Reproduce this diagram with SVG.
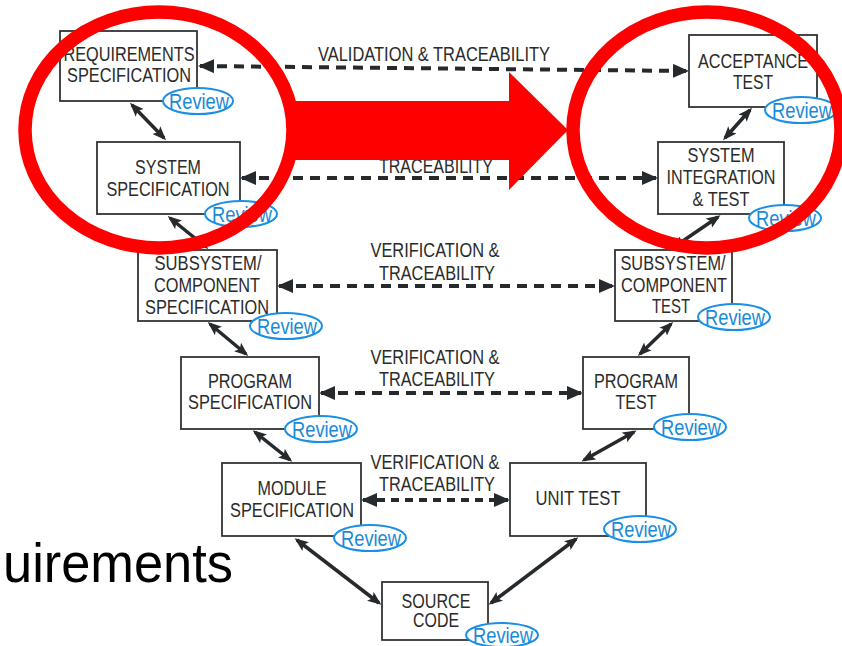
<svg xmlns="http://www.w3.org/2000/svg" width="842" height="646" viewBox="0 0 842 646">
<style>
.box{fill:#fff;stroke:#333;stroke-width:1.8}
.t{font-family:"Liberation Sans",Arial,sans-serif;font-size:19.5px;fill:#2b2b2b;text-anchor:middle}
.rv{fill:#fff;stroke:#1a8fe3;stroke-width:2}
.rt{font-family:"Liberation Sans",Arial,sans-serif;font-size:22px;fill:#1a8ad8;text-anchor:middle}
.sc{stroke:#262a2d;stroke-width:3.5;fill:none;marker-start:url(#ah);marker-end:url(#ah)}
.dc{stroke:#262a2d;stroke-width:4;fill:none;stroke-dasharray:10 7;marker-start:url(#dh);marker-end:url(#dh)}
.red{fill:none;stroke:#ff0000;stroke-width:13.5}
</style>
<defs>
<marker id="ah" viewBox="0 0 14 11" refX="11" refY="5.5" markerWidth="14" markerHeight="11" markerUnits="userSpaceOnUse" orient="auto-start-reverse">
<path d="M0,0 L14,5.5 L0,11 L3,5.5 z" fill="#262a2d"/>
</marker>
<marker id="dh" viewBox="0 0 16 14" refX="14" refY="7" markerWidth="16" markerHeight="14" markerUnits="userSpaceOnUse" orient="auto-start-reverse">
<path d="M0,0 L16,7 L0,14 z" fill="#262a2d"/>
</marker>
</defs>
<rect width="842" height="646" fill="#fff"/>

<g id="connectors">
<line class="sc" x1="132" y1="105" x2="164" y2="138"/>
<line class="sc" x1="170" y1="218" x2="206" y2="247"/>
<line class="sc" x1="750" y1="110" x2="725" y2="138"/>
<line class="sc" x1="718" y1="217" x2="674" y2="247"/>
<line class="sc" x1="210" y1="324" x2="246" y2="354"/>
<line class="sc" x1="671" y1="324" x2="640" y2="354"/>
<line class="sc" x1="255" y1="432" x2="290" y2="460"/>
<line class="sc" x1="634" y1="432" x2="584" y2="460"/>
<line class="sc" x1="297" y1="540" x2="379" y2="603"/>
<line class="sc" x1="576" y1="539" x2="491" y2="603"/>
<line class="dc" x1="200" y1="66" x2="687" y2="71"/>
<line class="dc" x1="242" y1="178" x2="656" y2="178"/>
<line class="dc" x1="279" y1="286" x2="613" y2="286"/>
<line class="dc" x1="321" y1="393" x2="581" y2="393"/>
<line class="dc" x1="363" y1="500" x2="508" y2="500" style="stroke-dasharray:8 6"/>
<text class="t" x="434" y="61" textLength="232" lengthAdjust="spacingAndGlyphs">VALIDATION &amp; TRACEABILITY</text>
<text class="t" x="436" y="173" textLength="114" lengthAdjust="spacingAndGlyphs">TRACEABILITY</text>
<text class="t" x="435" y="257" textLength="129" lengthAdjust="spacingAndGlyphs">VERIFICATION &amp;</text>
<text class="t" x="437" y="280" textLength="116" lengthAdjust="spacingAndGlyphs">TRACEABILITY</text>
<text class="t" x="435" y="364" textLength="129" lengthAdjust="spacingAndGlyphs">VERIFICATION &amp;</text>
<text class="t" x="437" y="386" textLength="116" lengthAdjust="spacingAndGlyphs">TRACEABILITY</text>
<text class="t" x="435" y="469" textLength="129" lengthAdjust="spacingAndGlyphs">VERIFICATION &amp;</text>
<text class="t" x="437" y="491" textLength="116" lengthAdjust="spacingAndGlyphs">TRACEABILITY</text>
</g>

<g id="req-spec">
<rect class="box" x="60" y="31" width="137" height="70"/>
<text class="t" x="129" y="61" textLength="131" lengthAdjust="spacingAndGlyphs">REQUIREMENTS</text>
<text class="t" x="129" y="82" textLength="124" lengthAdjust="spacingAndGlyphs">SPECIFICATION</text>
<ellipse class="rv" cx="198" cy="101" rx="35" ry="13"/>
<text class="rt" x="199" y="109" textLength="60" lengthAdjust="spacingAndGlyphs">Review</text>
</g>

<g id="sys-spec">
<rect class="box" x="97" y="142" width="143" height="72"/>
<text class="t" x="168" y="174" textLength="66" lengthAdjust="spacingAndGlyphs">SYSTEM</text>
<text class="t" x="168" y="196" textLength="123" lengthAdjust="spacingAndGlyphs">SPECIFICATION</text>
<ellipse class="rv" cx="241" cy="214" rx="36" ry="13"/>
<text class="rt" x="242" y="222" textLength="60" lengthAdjust="spacingAndGlyphs">Review</text>
</g>

<g id="acceptance-test">
<rect class="box" x="689" y="35" width="128" height="72"/>
<text class="t" x="753" y="68" textLength="110" lengthAdjust="spacingAndGlyphs">ACCEPTANCE</text>
<text class="t" x="753" y="89" textLength="40" lengthAdjust="spacingAndGlyphs">TEST</text>
<ellipse class="rv" cx="801" cy="110" rx="36" ry="13"/>
<text class="rt" x="802" y="118" textLength="60" lengthAdjust="spacingAndGlyphs">Review</text>
</g>

<g id="sys-integration">
<rect class="box" x="658" y="142" width="126" height="72"/>
<text class="t" x="721" y="162" textLength="67" lengthAdjust="spacingAndGlyphs">SYSTEM</text>
<text class="t" x="721" y="184" textLength="109" lengthAdjust="spacingAndGlyphs">INTEGRATION</text>
<text class="t" x="721" y="206" textLength="57" lengthAdjust="spacingAndGlyphs">&amp; TEST</text>
<ellipse class="rv" cx="785" cy="218" rx="36" ry="13"/>
<text class="rt" x="786" y="226" textLength="60" lengthAdjust="spacingAndGlyphs">Review</text>
</g>

<g id="subsys-spec">
<rect class="box" x="138" y="250" width="139" height="71"/>
<text class="t" x="208" y="270" textLength="107" lengthAdjust="spacingAndGlyphs">SUBSYSTEM/</text>
<text class="t" x="207" y="292" textLength="106" lengthAdjust="spacingAndGlyphs">COMPONENT</text>
<text class="t" x="207" y="314" textLength="124" lengthAdjust="spacingAndGlyphs">SPECIFICATION</text>
<ellipse class="rv" cx="286" cy="326" rx="36" ry="13"/>
<text class="rt" x="287" y="334" textLength="60" lengthAdjust="spacingAndGlyphs">Review</text>
</g>

<g id="subsys-test">
<rect class="box" x="615" y="250" width="117" height="71"/>
<text class="t" x="673" y="270" textLength="105" lengthAdjust="spacingAndGlyphs">SUBSYSTEM/</text>
<text class="t" x="674" y="292" textLength="106" lengthAdjust="spacingAndGlyphs">COMPONENT</text>
<text class="t" x="671" y="313" textLength="38" lengthAdjust="spacingAndGlyphs">TEST</text>
<ellipse class="rv" cx="734" cy="317" rx="36" ry="13"/>
<text class="rt" x="735" y="325" textLength="60" lengthAdjust="spacingAndGlyphs">Review</text>
</g>

<g id="program-spec">
<rect class="box" x="181" y="357" width="138" height="72"/>
<text class="t" x="250" y="388" textLength="84" lengthAdjust="spacingAndGlyphs">PROGRAM</text>
<text class="t" x="250" y="409" textLength="124" lengthAdjust="spacingAndGlyphs">SPECIFICATION</text>
<ellipse class="rv" cx="321" cy="429" rx="36" ry="13"/>
<text class="rt" x="322" y="437" textLength="60" lengthAdjust="spacingAndGlyphs">Review</text>
</g>

<g id="program-test">
<rect class="box" x="583" y="357" width="106" height="72"/>
<text class="t" x="636" y="388" textLength="84" lengthAdjust="spacingAndGlyphs">PROGRAM</text>
<text class="t" x="636" y="409" textLength="41" lengthAdjust="spacingAndGlyphs">TEST</text>
<ellipse class="rv" cx="690" cy="427" rx="36" ry="13"/>
<text class="rt" x="691" y="435" textLength="60" lengthAdjust="spacingAndGlyphs">Review</text>
</g>

<g id="module-spec">
<rect class="box" x="222" y="463" width="139" height="73"/>
<text class="t" x="292" y="495" textLength="69" lengthAdjust="spacingAndGlyphs">MODULE</text>
<text class="t" x="292" y="517" textLength="124" lengthAdjust="spacingAndGlyphs">SPECIFICATION</text>
<ellipse class="rv" cx="370" cy="538" rx="36" ry="13"/>
<text class="rt" x="371" y="546" textLength="60" lengthAdjust="spacingAndGlyphs">Review</text>
</g>

<g id="unit-test">
<rect class="box" x="510" y="463" width="136" height="73"/>
<text class="t" x="578" y="505" textLength="85" lengthAdjust="spacingAndGlyphs">UNIT TEST</text>
<ellipse class="rv" cx="640" cy="529" rx="36" ry="13"/>
<text class="rt" x="641" y="537" textLength="60" lengthAdjust="spacingAndGlyphs">Review</text>
</g>

<g id="source-code">
<rect class="box" x="382" y="582" width="106" height="58"/>
<text class="t" x="436" y="608" textLength="69" lengthAdjust="spacingAndGlyphs">SOURCE</text>
<text class="t" x="436" y="627" textLength="46" lengthAdjust="spacingAndGlyphs">CODE</text>
<ellipse class="rv" cx="502" cy="635" rx="36" ry="12"/>
<text class="rt" x="503" y="643" textLength="60" lengthAdjust="spacingAndGlyphs">Review</text>
</g>

<text x="3" y="582" font-family="'Liberation Sans',Arial,sans-serif" font-size="56" fill="#000" textLength="230" lengthAdjust="spacingAndGlyphs">uirements</text>

<g id="highlight">
<ellipse class="red" cx="159" cy="130" rx="134" ry="118"/>
<ellipse class="red" cx="707" cy="130" rx="134" ry="118"/>
<path d="M287,101 L509,101 L509,72 L568,130 L509,190 L509,160 L287,160 z" fill="#ff0000"/>
</g>
</svg>
